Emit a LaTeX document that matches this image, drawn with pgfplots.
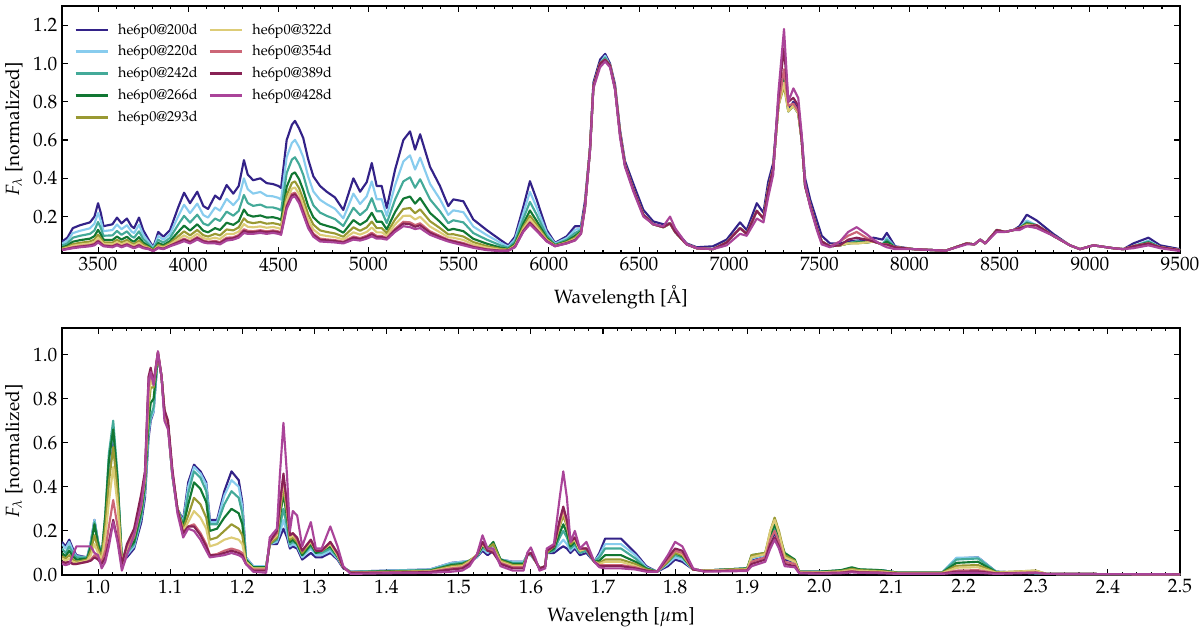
\documentclass[border=0pt]{standalone}
\usepackage[T1]{fontenc}
\usepackage{mathpazo}
\usepackage{pgfplots}
\usepackage{pgfplotstable}
\pgfplotsset{compat=1.18}
\definecolor{c1}{HTML}{332288}
\definecolor{c2}{HTML}{88CCEE}
\definecolor{c3}{HTML}{44AA99}
\definecolor{c4}{HTML}{117733}
\definecolor{c5}{HTML}{999933}
\definecolor{c6}{HTML}{DDCC77}
\definecolor{c7}{HTML}{CC6677}
\definecolor{c8}{HTML}{882255}
\definecolor{c9}{HTML}{AA4499}

\pgfplotstableread{
x a b c d e f g h i
3300 0.07 0.059 0.048 0.039 0.034 0.030 0.027 0.026 0.025
3330 0.09 0.075 0.061 0.049 0.042 0.037 0.033 0.032 0.03
3360 0.14 0.114 0.090 0.069 0.056 0.048 0.040 0.038 0.035
3400 0.155 0.126 0.100 0.077 0.063 0.054 0.046 0.043 0.04
3455 0.17 0.139 0.110 0.085 0.070 0.060 0.051 0.049 0.045
3480 0.20 0.163 0.128 0.098 0.080 0.068 0.058 0.055 0.05
3500 0.27 0.219 0.172 0.131 0.106 0.090 0.075 0.071 0.065
3515 0.22 0.179 0.141 0.108 0.088 0.075 0.063 0.060 0.055
3530 0.15 0.124 0.100 0.079 0.066 0.058 0.050 0.048 0.045
3580 0.16 0.13 0.102 0.078 0.064 0.054 0.046 0.044 0.04
3605 0.195 0.159 0.125 0.096 0.079 0.067 0.057 0.054 0.05
3630 0.165 0.134 0.105 0.08 0.065 0.055 0.046 0.044 0.04
3660 0.19 0.155 0.123 0.095 0.078 0.067 0.057 0.054 0.05
3685 0.15 0.123 0.097 0.075 0.062 0.053 0.046 0.043 0.04
3700 0.14 0.114 0.090 0.069 0.056 0.048 0.040 0.038 0.035
3727 0.195 0.158 0.123 0.093 0.075 0.063 0.053 0.050 0.045
3750 0.13 0.106 0.084 0.065 0.054 0.046 0.040 0.038 0.035
3780 0.08 0.068 0.056 0.046 0.04 0.036 0.033 0.032 0.03
3806 0.04 0.035 0.03 0.026 0.024 0.022 0.021 0.021 0.02
3834 0.12 0.099 0.079 0.062 0.052 0.045 0.039 0.038 0.035
3862 0.095 0.079 0.064 0.051 0.043 0.038 0.033 0.032 0.03
3899 0.13 0.109 0.089 0.072 0.062 0.055 0.049 0.048 0.045
3945 0.25 0.203 0.159 0.121 0.098 0.083 0.07 0.066 0.06
3977 0.325 0.262 0.204 0.153 0.123 0.102 0.085 0.08 0.072
4010 0.27 0.218 0.169 0.127 0.102 0.085 0.071 0.066 0.06
4050 0.33 0.268 0.21 0.16 0.13 0.11 0.093 0.088 0.08
4084 0.255 0.208 0.164 0.126 0.103 0.088 0.075 0.071 0.065
4110 0.24 0.195 0.154 0.118 0.096 0.082 0.069 0.065 0.06
4149 0.31 0.248 0.19 0.14 0.11 0.09 0.073 0.068 0.06
4176 0.29 0.231 0.177 0.130 0.102 0.083 0.067 0.062 0.055
4213 0.365 0.293 0.226 0.168 0.133 0.110 0.090 0.084 0.075
4250 0.32 0.26 0.205 0.157 0.128 0.109 0.092 0.087 0.08
4280 0.36 0.293 0.23 0.176 0.144 0.122 0.104 0.098 0.09
4309 0.495 0.4 0.313 0.237 0.191 0.161 0.134 0.126 0.115
4330 0.42 0.343 0.271 0.209 0.172 0.147 0.126 0.119 0.11
4360 0.39 0.32 0.256 0.2 0.166 0.144 0.124 0.118 0.11
4400 0.40 0.329 0.263 0.206 0.172 0.149 0.129 0.124 0.115
4435 0.375 0.309 0.248 0.195 0.163 0.142 0.123 0.118 0.11
4470 0.37 0.306 0.248 0.197 0.166 0.146 0.128 0.123 0.115
4500 0.36 0.298 0.24 0.19 0.16 0.14 0.123 0.118 0.11
4515 0.35 0.289 0.232 0.183 0.154 0.134 0.117 0.112 0.105
4546 0.60 0.51 0.427 0.355 0.312 0.283 0.258 0.251 0.24
4575 0.68 0.585 0.498 0.422 0.376 0.346 0.319 0.311 0.30
4592 0.70 0.601 0.510 0.431 0.384 0.352 0.325 0.317 0.305
4615 0.66 0.563 0.473 0.395 0.348 0.317 0.29 0.282 0.27
4638 0.61 0.51 0.418 0.338 0.29 0.258 0.23 0.222 0.21
4665 0.50 0.41 0.327 0.255 0.212 0.183 0.158 0.151 0.14
4694 0.41 0.331 0.259 0.196 0.158 0.133 0.111 0.104 0.095
4731 0.36 0.288 0.221 0.163 0.128 0.105 0.085 0.079 0.07
4768 0.33 0.265 0.204 0.152 0.12 0.099 0.081 0.076 0.068
4814 0.30 0.241 0.187 0.14 0.112 0.093 0.077 0.072 0.065
4860 0.235 0.191 0.151 0.116 0.095 0.081 0.069 0.065 0.06
4916 0.40 0.32 0.246 0.182 0.144 0.118 0.096 0.09 0.08
4953 0.33 0.266 0.208 0.157 0.126 0.106 0.088 0.083 0.075
4990 0.38 0.306 0.238 0.179 0.144 0.12 0.1 0.094 0.085
5018 0.48 0.384 0.296 0.22 0.174 0.143 0.116 0.108 0.097
5045 0.36 0.291 0.228 0.173 0.14 0.118 0.099 0.093 0.085
5073 0.36 0.291 0.228 0.173 0.14 0.118 0.099 0.093 0.085
5101 0.245 0.204 0.166 0.133 0.113 0.1 0.088 0.085 0.08
5147 0.445 0.364 0.289 0.224 0.185 0.159 0.136 0.13 0.12
5193 0.60 0.488 0.384 0.294 0.24 0.204 0.173 0.164 0.15
5230 0.645 0.52 0.405 0.305 0.245 0.205 0.17 0.16 0.145
5258 0.55 0.446 0.351 0.268 0.218 0.185 0.156 0.147 0.135
5286 0.63 0.508 0.395 0.297 0.238 0.199 0.165 0.155 0.14
5341 0.46 0.371 0.290 0.219 0.176 0.148 0.123 0.116 0.105
5396 0.36 0.291 0.228 0.173 0.14 0.118 0.099 0.093 0.085
5442 0.255 0.209 0.166 0.129 0.107 0.092 0.079 0.076 0.07
5470 0.29 0.233 0.181 0.136 0.108 0.09 0.074 0.07 0.063
5526 0.28 0.223 0.17 0.124 0.096 0.078 0.062 0.057 0.05
5581 0.185 0.148 0.114 0.084 0.067 0.055 0.044 0.041 0.037
5655 0.13 0.104 0.08 0.059 0.046 0.038 0.03 0.028 0.025
5729 0.08 0.065 0.051 0.039 0.032 0.027 0.023 0.022 0.02
5775 0.05 0.043 0.037 0.031 0.028 0.025 0.023 0.023 0.022
5812 0.095 0.081 0.069 0.058 0.051 0.047 0.043 0.042 0.04
5858 0.25 0.218 0.188 0.162 0.146 0.136 0.127 0.124 0.12
5895 0.385 0.329 0.277 0.232 0.205 0.187 0.171 0.167 0.16
5932 0.29 0.249 0.211 0.178 0.158 0.145 0.133 0.13 0.125
5988 0.13 0.115 0.101 0.089 0.082 0.077 0.073 0.072 0.07
6034 0.063 0.059 0.054 0.051 0.049 0.047 0.046 0.046 0.045
6099 0.097 0.088 0.079 0.072 0.067 0.064 0.062 0.061 0.06
6145 0.15 0.131 0.114 0.099 0.09 0.084 0.079 0.077 0.075
6178 0.15 0.14 0.131 0.123 0.118 0.115 0.112 0.111 0.11
6200 0.28 0.25 0.25 0.25 0.25 0.25 0.25 0.25 0.24
6228 0.56 0.55 0.55 0.55 0.55 0.55 0.55 0.55 0.54
6247 0.90 0.88 0.88 0.88 0.88 0.88 0.88 0.88 0.87
6284 1.02 1.0 1.0 1.0 1.0 1.0 1.0 1.0 0.98
6312 1.05 1.04 1.03 1.02 1.02 1.02 1.02 1.02 1.01
6339 1.0 0.99 0.99 0.99 0.99 0.99 0.99 0.99 0.98
6367 0.89 0.87 0.87 0.87 0.87 0.87 0.87 0.87 0.86
6395 0.65 0.63 0.63 0.63 0.63 0.63 0.63 0.63 0.61
6422 0.49 0.47 0.47 0.47 0.47 0.47 0.47 0.47 0.46
6469 0.37 0.34 0.34 0.34 0.34 0.34 0.34 0.34 0.33
6524 0.235 0.21 0.21 0.21 0.21 0.21 0.21 0.21 0.20
6579 0.175 0.16 0.16 0.16 0.16 0.16 0.16 0.16 0.16
6635 0.16 0.145 0.145 0.145 0.145 0.145 0.145 0.145 0.15
6672 0.165 0.165 0.165 0.165 0.165 0.165 0.165 0.165 0.20
6700 0.13 0.12 0.12 0.12 0.12 0.12 0.12 0.12 0.14
6764 0.06 0.055 0.055 0.055 0.055 0.055 0.055 0.055 0.055
6820 0.04 0.035 0.035 0.035 0.035 0.035 0.035 0.035 0.035
6910 0.045 0.03 0.03 0.03 0.03 0.03 0.03 0.03 0.03
6986 0.08 0.065 0.065 0.065 0.065 0.065 0.065 0.065 0.05
7060 0.17 0.14 0.14 0.14 0.14 0.14 0.14 0.14 0.11
7097 0.13 0.11 0.11 0.11 0.11 0.11 0.11 0.11 0.10
7153 0.27 0.23 0.23 0.23 0.23 0.23 0.23 0.23 0.19
7190 0.22 0.19 0.19 0.19 0.19 0.19 0.19 0.19 0.17
7216 0.38 0.34 0.34 0.34 0.34 0.34 0.34 0.34 0.30
7244 0.48 0.45 0.45 0.45 0.45 0.45 0.45 0.45 0.42
7273 0.80 0.78 0.78 0.78 0.78 0.78 0.78 0.82 0.85
7304 0.95 0.94 0.93 0.92 0.88 0.90 0.97 1.08 1.18
7328 0.76 0.75 0.75 0.75 0.75 0.75 0.78 0.80 0.80
7356 0.80 0.78 0.78 0.78 0.78 0.78 0.79 0.82 0.87
7383 0.76 0.74 0.74 0.74 0.74 0.74 0.75 0.78 0.82
7402 0.62 0.60 0.60 0.60 0.60 0.60 0.60 0.60 0.63
7421 0.40 0.36 0.36 0.36 0.36 0.36 0.36 0.36 0.37
7449 0.29 0.26 0.26 0.26 0.26 0.26 0.26 0.26 0.25
7486 0.18 0.14 0.14 0.14 0.14 0.14 0.14 0.14 0.13
7513 0.10 0.07 0.07 0.07 0.07 0.07 0.07 0.07 0.055
7559 0.06 0.045 0.045 0.045 0.045 0.045 0.045 0.045 0.04
7614 0.06 0.05 0.05 0.05 0.05 0.05 0.07 0.05 0.07
7660 0.07 0.06 0.06 0.06 0.06 0.06 0.10 0.08 0.12
7707 0.075 0.07 0.07 0.065 0.06 0.06 0.12 0.09 0.145
7760 0.08 0.065 0.065 0.065 0.065 0.065 0.09 0.08 0.11
7800 0.09 0.07 0.07 0.07 0.07 0.07 0.07 0.07 0.08
7850 0.08 0.055 0.055 0.055 0.055 0.055 0.055 0.055 0.05
7874 0.115 0.09 0.08 0.07 0.055 0.055 0.055 0.055 0.04
7920 0.045 0.04 0.04 0.04 0.04 0.04 0.04 0.04 0.03
8025 0.03 0.03 0.03 0.03 0.03 0.03 0.03 0.03 0.03
8200 0.022 0.022 0.022 0.022 0.022 0.022 0.022 0.022 0.022
8317 0.06 0.06 0.06 0.06 0.06 0.06 0.06 0.06 0.055
8360 0.055 0.055 0.055 0.055 0.055 0.055 0.055 0.055 0.055
8392 0.08 0.08 0.08 0.08 0.08 0.08 0.08 0.08 0.08
8420 0.06 0.06 0.06 0.06 0.06 0.06 0.06 0.06 0.06
8484 0.13 0.13 0.13 0.13 0.13 0.13 0.13 0.13 0.12
8530 0.12 0.12 0.12 0.12 0.12 0.12 0.12 0.12 0.12
8577 0.13 0.13 0.13 0.13 0.13 0.13 0.13 0.13 0.13
8610 0.15 0.14 0.14 0.14 0.14 0.14 0.14 0.14 0.13
8650 0.21 0.18 0.17 0.165 0.16 0.155 0.15 0.15 0.15
8705 0.18 0.155 0.155 0.155 0.155 0.155 0.155 0.155 0.14
8797 0.11 0.10 0.10 0.10 0.10 0.10 0.10 0.10 0.10
8890 0.05 0.05 0.05 0.05 0.05 0.05 0.05 0.05 0.05
8945 0.03 0.03 0.03 0.03 0.03 0.03 0.03 0.03 0.03
9020 0.05 0.05 0.05 0.05 0.05 0.05 0.05 0.05 0.05
9130 0.035 0.035 0.035 0.035 0.035 0.035 0.035 0.035 0.035
9186 0.03 0.03 0.03 0.03 0.03 0.03 0.03 0.03 0.03
9241 0.06 0.045 0.045 0.045 0.045 0.045 0.045 0.045 0.035
9325 0.09 0.075 0.07 0.065 0.06 0.06 0.06 0.06 0.05
9390 0.05 0.04 0.04 0.04 0.04 0.04 0.04 0.04 0.035
9500 0.03 0.025 0.025 0.025 0.025 0.025 0.025 0.025 0.02
}\tTop

\pgfplotstableread{
x a b c d e f g h i
0.950 0.15 0.14 0.12 0.10 0.085 0.075 0.06 0.06 0.05
0.955 0.13 0.12 0.10 0.085 0.075 0.065 0.055 0.055 0.045
0.960 0.16 0.15 0.13 0.11 0.09 0.075 0.06 0.06 0.05
0.965 0.12 0.11 0.10 0.085 0.07 0.06 0.05 0.05 0.09
0.970 0.09 0.085 0.08 0.07 0.06 0.055 0.05 0.05 0.13
0.985 0.08 0.08 0.08 0.075 0.07 0.065 0.06 0.06 0.13
0.990 0.15 0.15 0.14 0.13 0.11 0.09 0.07 0.065 0.13
0.995 0.25 0.25 0.24 0.23 0.18 0.14 0.09 0.08 0.10
1.000 0.15 0.15 0.15 0.14 0.12 0.10 0.08 0.07 0.09
1.005 0.09 0.09 0.09 0.09 0.08 0.07 0.06 0.05 0.03
1.010 0.20 0.22 0.27 0.27 0.22 0.17 0.11 0.08 0.06
1.015 0.45 0.50 0.55 0.52 0.42 0.33 0.22 0.15 0.13
1.021 0.62 0.66 0.70 0.66 0.58 0.49 0.34 0.25 0.24
1.027 0.40 0.42 0.45 0.43 0.38 0.32 0.22 0.16 0.15
1.033 0.07 0.07 0.07 0.07 0.06 0.06 0.05 0.05 0.02
1.040 0.08 0.09 0.10 0.11 0.12 0.12 0.13 0.14 0.09
1.050 0.12 0.13 0.14 0.15 0.17 0.18 0.19 0.21 0.18
1.060 0.24 0.26 0.27 0.29 0.31 0.32 0.34 0.37 0.32
1.065 0.35 0.37 0.39 0.41 0.43 0.44 0.45 0.47 0.45
1.070 0.62 0.64 0.66 0.70 0.76 0.80 0.85 0.90 0.88
1.073 0.70 0.71 0.72 0.78 0.85 0.88 0.92 0.94 0.92
1.077 0.74 0.74 0.76 0.80 0.85 0.86 0.88 0.87 0.86
1.083 1.00 1.00 1.00 1.00 1.00 1.01 1.01 1.01 1.015
1.088 0.90 0.90 0.90 0.90 0.90 0.90 0.90 0.90 0.90
1.092 0.73 0.73 0.74 0.74 0.74 0.74 0.75 0.75 0.70
1.097 0.68 0.68 0.68 0.68 0.68 0.68 0.68 0.70 0.66
1.103 0.45 0.45 0.45 0.46 0.46 0.46 0.47 0.48 0.46
1.110 0.30 0.30 0.30 0.30 0.30 0.30 0.30 0.30 0.28
1.118 0.25 0.24 0.23 0.22 0.21 0.20 0.19 0.19 0.17
1.125 0.42 0.40 0.37 0.32 0.27 0.24 0.22 0.22 0.21
1.133 0.50 0.49 0.47 0.42 0.35 0.29 0.23 0.22 0.20
1.142 0.47 0.46 0.44 0.39 0.32 0.26 0.19 0.18 0.16
1.150 0.42 0.41 0.38 0.33 0.26 0.21 0.14 0.13 0.11
1.155 0.25 0.24 0.23 0.20 0.16 0.13 0.09 0.09 0.08
1.165 0.25 0.24 0.23 0.21 0.17 0.14 0.095 0.09 0.085
1.175 0.38 0.36 0.32 0.26 0.20 0.16 0.11 0.10 0.09
1.185 0.47 0.43 0.38 0.30 0.23 0.17 0.12 0.11 0.10
1.195 0.43 0.40 0.35 0.28 0.21 0.16 0.11 0.10 0.09
1.200 0.33 0.31 0.28 0.23 0.18 0.14 0.10 0.09 0.08
1.205 0.08 0.08 0.07 0.07 0.06 0.06 0.05 0.05 0.05
1.215 0.04 0.04 0.035 0.035 0.03 0.03 0.025 0.02 0.015
1.233 0.04 0.04 0.035 0.035 0.03 0.03 0.025 0.02 0.01
1.238 0.14 0.14 0.14 0.14 0.14 0.15 0.15 0.15 0.17
1.248 0.14 0.15 0.16 0.17 0.17 0.18 0.19 0.20 0.21
1.252 0.17 0.19 0.22 0.26 0.28 0.30 0.31 0.32 0.45
1.257 0.21 0.25 0.30 0.37 0.40 0.43 0.45 0.46 0.69
1.262 0.17 0.19 0.22 0.26 0.28 0.30 0.31 0.32 0.45
1.266 0.12 0.13 0.14 0.15 0.16 0.17 0.18 0.18 0.20
1.270 0.13 0.14 0.15 0.16 0.17 0.18 0.19 0.19 0.29
1.276 0.12 0.13 0.14 0.14 0.15 0.16 0.16 0.17 0.27
1.283 0.07 0.08 0.09 0.09 0.10 0.11 0.11 0.11 0.13
1.295 0.10 0.12 0.13 0.14 0.15 0.15 0.16 0.16 0.24
1.302 0.08 0.09 0.10 0.10 0.11 0.11 0.11 0.11 0.12
1.310 0.08 0.09 0.10 0.11 0.11 0.11 0.11 0.11 0.12
1.322 0.10 0.11 0.12 0.13 0.14 0.14 0.15 0.15 0.22
1.332 0.07 0.075 0.08 0.085 0.09 0.09 0.095 0.10 0.13
1.340 0.03 0.035 0.035 0.035 0.035 0.035 0.035 0.035 0.04
1.350 0.015 0.015 0.015 0.012 0.012 0.01 0.01 0.01 0.005
1.400 0.02 0.02 0.018 0.017 0.015 0.013 0.012 0.01 0.008
1.460 0.025 0.025 0.022 0.02 0.018 0.016 0.015 0.013 0.01
1.490 0.055 0.055 0.05 0.045 0.04 0.035 0.03 0.025 0.015
1.505 0.06 0.06 0.055 0.05 0.045 0.04 0.035 0.03 0.02
1.515 0.06 0.065 0.065 0.065 0.065 0.06 0.055 0.05 0.04
1.525 0.08 0.08 0.085 0.085 0.09 0.09 0.09 0.09 0.09
1.533 0.11 0.12 0.125 0.13 0.14 0.14 0.15 0.15 0.18
1.540 0.09 0.10 0.11 0.12 0.12 0.11 0.11 0.11 0.12
1.548 0.11 0.12 0.14 0.15 0.14 0.12 0.11 0.10 0.12
1.558 0.07 0.07 0.07 0.07 0.065 0.06 0.055 0.05 0.04
1.575 0.06 0.06 0.055 0.05 0.045 0.04 0.035 0.03 0.02
1.590 0.06 0.06 0.055 0.05 0.045 0.04 0.035 0.03 0.02
1.595 0.09 0.09 0.09 0.09 0.09 0.09 0.09 0.09 0.10
1.600 0.09 0.09 0.095 0.10 0.10 0.10 0.10 0.10 0.125
1.607 0.06 0.06 0.06 0.06 0.06 0.06 0.06 0.06 0.07
1.612 0.03 0.03 0.03 0.03 0.03 0.03 0.03 0.03 0.02
1.620 0.04 0.04 0.04 0.04 0.04 0.04 0.04 0.04 0.03
1.622 0.10 0.10 0.10 0.10 0.10 0.11 0.11 0.11 0.12
1.632 0.10 0.11 0.11 0.12 0.13 0.13 0.13 0.13 0.14
1.640 0.12 0.14 0.17 0.19 0.22 0.23 0.24 0.25 0.35
1.645 0.13 0.16 0.20 0.23 0.27 0.29 0.30 0.31 0.47
1.650 0.12 0.14 0.17 0.19 0.22 0.23 0.24 0.25 0.35
1.655 0.10 0.11 0.12 0.13 0.14 0.15 0.15 0.15 0.15
1.661 0.12 0.13 0.14 0.15 0.16 0.16 0.17 0.17 0.20
1.668 0.09 0.10 0.10 0.11 0.11 0.11 0.12 0.12 0.12
1.677 0.10 0.11 0.11 0.12 0.12 0.12 0.12 0.12 0.15
1.688 0.06 0.06 0.06 0.06 0.06 0.06 0.06 0.06 0.06
1.695 0.10 0.09 0.08 0.065 0.055 0.05 0.045 0.04 0.035
1.703 0.165 0.14 0.12 0.09 0.07 0.06 0.045 0.04 0.03
1.725 0.165 0.14 0.12 0.09 0.07 0.06 0.045 0.04 0.03
1.745 0.10 0.09 0.075 0.06 0.05 0.04 0.035 0.03 0.025
1.760 0.04 0.035 0.03 0.03 0.025 0.02 0.02 0.02 0.015
1.775 0.015 0.015 0.015 0.015 0.015 0.015 0.015 0.015 0.015
1.790 0.04 0.05 0.06 0.06 0.06 0.07 0.07 0.08 0.09
1.800 0.07 0.08 0.09 0.10 0.10 0.11 0.11 0.12 0.15
1.810 0.06 0.07 0.08 0.085 0.09 0.095 0.10 0.11 0.13
1.825 0.025 0.025 0.025 0.025 0.025 0.025 0.025 0.025 0.03
1.840 0.02 0.02 0.02 0.02 0.02 0.02 0.018 0.018 0.015
1.900 0.03 0.03 0.03 0.03 0.028 0.025 0.022 0.02 0.018
1.906 0.07 0.075 0.08 0.09 0.09 0.08 0.06 0.05 0.04
1.925 0.09 0.09 0.095 0.10 0.10 0.095 0.08 0.07 0.06
1.932 0.15 0.16 0.17 0.18 0.20 0.20 0.16 0.14 0.12
1.938 0.19 0.21 0.22 0.23 0.26 0.25 0.20 0.17 0.16
1.944 0.15 0.16 0.17 0.18 0.20 0.19 0.15 0.13 0.12
1.952 0.07 0.08 0.08 0.10 0.09 0.08 0.06 0.05 0.04
1.966 0.06 0.06 0.065 0.07 0.065 0.06 0.05 0.04 0.035
1.972 0.015 0.015 0.015 0.015 0.015 0.012 0.01 0.01 0.008
2.000 0.015 0.015 0.015 0.015 0.012 0.012 0.01 0.008 0.006
2.030 0.02 0.02 0.02 0.022 0.018 0.015 0.012 0.01 0.008
2.045 0.03 0.03 0.032 0.035 0.028 0.022 0.018 0.015 0.012
2.055 0.022 0.022 0.024 0.026 0.022 0.018 0.014 0.012 0.01
2.085 0.022 0.022 0.022 0.022 0.018 0.015 0.012 0.01 0.008
2.110 0.01 0.01 0.01 0.01 0.01 0.008 0.007 0.006 0.005
2.170 0.01 0.01 0.01 0.01 0.01 0.008 0.007 0.006 0.005
2.190 0.075 0.078 0.07 0.055 0.042 0.033 0.02 0.015 0.01
2.220 0.08 0.08 0.075 0.06 0.045 0.035 0.022 0.016 0.01
2.245 0.015 0.015 0.015 0.013 0.012 0.01 0.008 0.007 0.005
2.300 0.008 0.008 0.008 0.01 0.02 0.02 0.012 0.01 0.01
2.315 0.005 0.005 0.005 0.005 0.005 0.005 0.005 0.005 0.005
2.500 0.003 0.003 0.003 0.003 0.003 0.003 0.003 0.003 0.003
}\tBot

\pgfplotsset{
  specax/.style={
    scale only axis, width=838.5pt, height=185.25pt,
    tick align=inside,
    major tick length=4.5pt, minor tick length=2.25pt,
    every tick/.style={black, line width=0.8pt},
    axis line style={line width=1.3pt},
    ticklabel style={font=\fontsize{14.5}{17}\selectfont},
    label style={font=\fontsize{14.4}{17}\selectfont},
    xlabel style={yshift=-4pt},
    ylabel style={yshift=1pt},
    yticklabel style={/pgf/number format/.cd, fixed, fixed zerofill, precision=1},
    clip=true,
    every axis plot/.append style={line width=1.6pt, line join=round},
    ylabel={$F_\lambda$ [normalized]},
  }
}

\begin{document}
\begin{tikzpicture}
\begin{axis}[specax,
  at={(46.5pt,279.75pt)}, anchor=south west,
  xmin=3300, xmax=9500, ymin=0.01, ymax=1.3,
  xtick={3500,4000,...,9500}, minor x tick num=4,
  ytick={0.2,0.4,0.6,0.8,1.0,1.2},
  xticklabel style={/pgf/number format/1000 sep={}},
  xlabel={Wavelength [\AA]},
  legend style={at={(axis description cs:0,1)}, anchor=north west,
    xshift=9pt, yshift=-12.5pt, draw=none, fill=none, inner sep=0pt,
    font=\fontsize{10.8}{13}\selectfont, row sep=6.1pt,
    nodes={inner xsep=0pt, inner ysep=0.5pt},
    /tikz/every even column/.append style={column sep=8.25pt},
    /tikz/every odd column/.append style={column sep=7pt}},
  legend cell align=left, transpose legend, legend columns=5,
  legend image code/.code={\draw[#1, line width=1.9pt] (0pt,0pt) -- (24pt,0pt);},
]
\addplot[c1] table[x=x,y=a]{\tTop};
\addplot[c2] table[x=x,y=b]{\tTop};
\addplot[c3] table[x=x,y=c]{\tTop};
\addplot[c4] table[x=x,y=d]{\tTop};
\addplot[c5] table[x=x,y=e]{\tTop};
\addplot[c6] table[x=x,y=f]{\tTop};
\addplot[c7] table[x=x,y=g]{\tTop};
\addplot[c8] table[x=x,y=h]{\tTop};
\addplot[c9] table[x=x,y=i]{\tTop};
\legend{he6p0@200d,he6p0@220d,he6p0@242d,he6p0@266d,he6p0@293d,he6p0@322d,he6p0@354d,he6p0@389d,he6p0@428d}
\end{axis}
\begin{axis}[specax,
  at={(46.5pt,38.25pt)}, anchor=south west,
  xmin=0.95, xmax=2.5, ymin=0, ymax=1.12,
  xtick={1.0,1.1,1.2,1.3,1.4,1.5,1.6,1.7,1.8,1.9,2.0,2.1,2.2,2.3,2.4,2.5},
  minor x tick num=4,
  ytick={0,0.2,0.4,0.6,0.8,1.0},
  xticklabel style={/pgf/number format/.cd, fixed, fixed zerofill, precision=1},
  xlabel={Wavelength [$\mu$m]},
]
\addplot[c1] table[x=x,y=a]{\tBot};
\addplot[c2] table[x=x,y=b]{\tBot};
\addplot[c3] table[x=x,y=c]{\tBot};
\addplot[c4] table[x=x,y=d]{\tBot};
\addplot[c5] table[x=x,y=e]{\tBot};
\addplot[c6] table[x=x,y=f]{\tBot};
\addplot[c7] table[x=x,y=g]{\tBot};
\addplot[c8] table[x=x,y=h]{\tBot};
\addplot[c9] table[x=x,y=i]{\tBot};
\end{axis}
\pgfresetboundingbox
\path[use as bounding box] (0pt,0pt) rectangle (900pt,469.5pt);
\end{tikzpicture}
\end{document}
